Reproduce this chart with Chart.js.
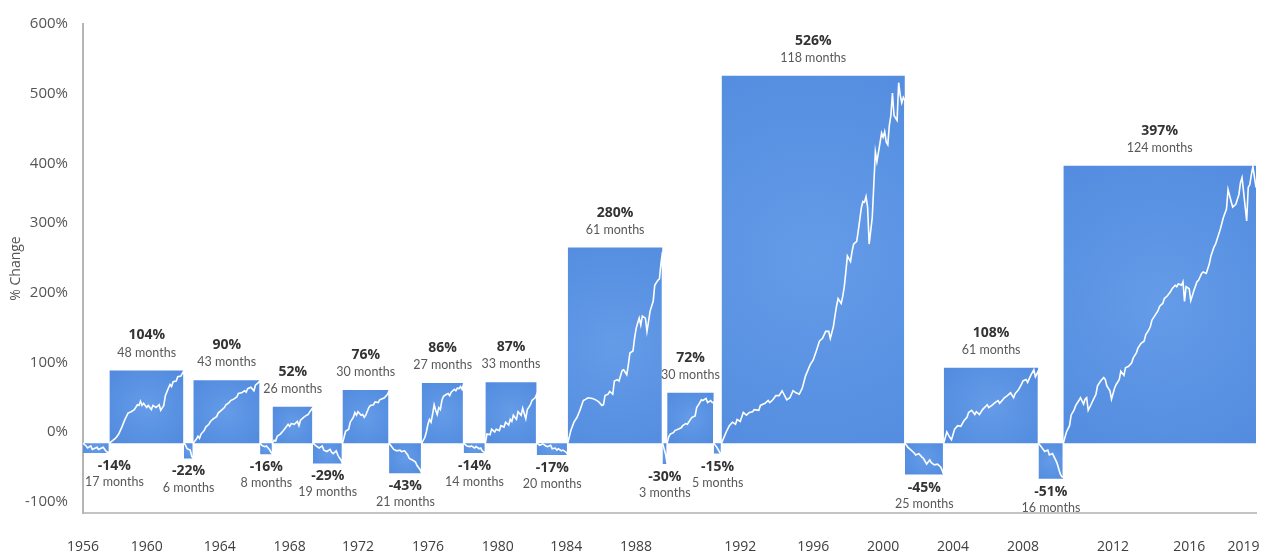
<!DOCTYPE html>
<html>
<head>
<meta charset="utf-8">
<script src="https://cdn.jsdelivr.net/npm/chart.js@4.4.1/dist/chart.umd.min.js"></script>
<style>
  html, body { margin: 0; padding: 0; background: #ffffff; }
  #wrap { width: 1266px; height: 558px; position: relative; }
</style>
</head>
<body>
<div id="wrap"><canvas id="c" width="1266" height="558"></canvas></div>
<script>
// ---------------- DATA ----------------
const periodMonths = [17, 48, 6, 43, 8, 26, 19, 30, 21, 27, 14, 33, 20, 61, 3, 30, 5, 118, 25, 61, 16, 124];
const periodChange = [-14, 104, -22, 90, -16, 52, -29, 76, -43, 86, -14, 87, -17, 280, -30, 72, -15, 526, -45, 108, -51, 397];

// cumulative % path inside each period: [month offset, % change]
const path01 = [[0,0],[2,-4],[3,-7],[5,-4],[6,-9],[9,-6],[10,-9],[12,-7],[13,-6],[15,-12],[17,-14]];
const path02 = [[0,0],[4,7],[6,13],[8,23],[10,34],[12,43],[14,45],[16,48],[18,55],[19,54],[20,60],[21,54],[22,57],[24,51],[25,54],[27,48],[28,54],[30,51],[32,55],[33,47],[35,54],[36,68],[38,79],[39,84],[40,81],[41,88],[43,89],[44,95],[46,96],[48,104]];
const path03 = [[0,0],[1,-3],[2,-8],[4,-10],[5,-19],[6,-22]];
const path04 = [[0,0],[2,6],[3,10],[4,7],[5,13],[7,18],[8,23],[10,27],[11,31],[13,35],[15,38],[16,43],[18,47],[20,51],[21,55],[23,58],[24,61],[26,63],[28,66],[29,71],[31,72],[33,75],[34,73],[35,78],[37,80],[39,75],[40,83],[42,87],[43,90]];
const path05 = [[0,0],[1,-3],[3,-5],[4,-4],[6,-9],[7,-13],[8,-16]];
const path06 = [[0,0],[1,4],[2,3],[3,10],[5,13],[7,18],[8,21],[10,27],[11,24],[12,28],[14,27],[16,31],[17,25],[18,33],[20,37],[22,40],[23,41],[24,45],[26,51]];
const path07 = [[0,0],[2,-4],[4,-7],[6,-4],[7,-10],[9,-12],[11,-9],[12,-13],[13,-15],[15,-11],[16,-17],[17,-21],[18,-24],[19,-29]];
const path08 = [[0,0],[1,8],[2,17],[4,20],[5,30],[7,37],[8,44],[9,40],[10,45],[12,40],[13,41],[14,37],[15,40],[17,51],[18,54],[20,55],[21,59],[23,58],[24,62],[26,64],[27,65],[29,70],[30,75]];
const path09 = [[0,0],[2,-6],[3,-9],[5,-11],[7,-10],[8,-12],[10,-11],[12,-17],[13,-22],[15,-24],[17,-27],[18,-32],[20,-38],[21,-43]];
const path10 = [[0,0],[2,8],[3,16],[4,27],[5,34],[6,30],[7,41],[8,55],[9,47],[10,41],[11,51],[12,48],[13,61],[14,67],[16,70],[17,71],[18,68],[19,73],[20,75],[21,77],[22,75],[23,79],[24,78],[25,81],[26,77],[27,85]];
const path11 = [[0,0],[2,-4],[4,-5],[5,-4],[7,-7],[8,-5],[10,-8],[11,-7],[12,-11],[14,-14]];
const path12 = [[0,0],[1,13],[3,12],[4,20],[6,16],[7,20],[9,18],[10,25],[12,23],[13,30],[15,26],[16,34],[17,31],[18,40],[20,34],[21,45],[23,40],[24,50],[26,35],[27,48],[29,55],[30,61],[32,65],[33,70]];
const path13 = [[0,0],[2,-3],[4,-1],[6,-4],[7,-5],[9,-3],[10,-8],[12,-7],[13,-10],[14,-8],[16,-11],[17,-10],[19,-13],[20,-17]];
const path14 = [[0,0],[2,18],[4,30],[6,37],[8,48],[10,61],[11,62],[13,65],[16,64],[18,62],[20,59],[22,54],[23,55],[24,68],[26,70],[27,74],[29,70],[30,89],[32,91],[33,89],[35,104],[36,105],[38,98],[39,112],[40,129],[42,132],[43,150],[44,164],[45,172],[46,179],[47,169],[48,182],[50,179],[51,160],[52,174],[53,189],[55,203],[56,226],[58,233],[59,235],[60,257],[61,274]];
const path15 = [[0,0],[2,-16],[3,-30]];
const path16 = [[0,0],[1,9],[2,13],[4,15],[5,18],[7,20],[9,22],[10,25],[12,28],[13,27],[15,34],[16,37],[18,39],[19,51],[21,58],[22,62],[23,61],[25,64],[26,58],[28,61],[29,58],[30,59]];
const path17 = [[0,0],[2,-6],[3,-10],[4,-14],[5,-15]];
const path18 = [[0,0],[3,16],[5,25],[7,30],[9,27],[10,34],[12,31],[14,44],[16,40],[18,44],[20,45],[21,48],[24,47],[25,54],[28,57],[30,61],[31,58],[33,62],[35,68],[37,68],[39,75],[42,62],[44,65],[46,75],[48,72],[50,70],[52,79],[54,96],[57,112],[59,119],[61,132],[63,146],[65,150],[67,160],[69,160],[70,150],[72,167],[73,182],[74,196],[75,207],[77,200],[78,210],[79,224],[80,245],[81,268],[83,260],[84,274],[85,285],[87,289],[88,304],[90,337],[91,346],[92,345],[93,353],[94,338],[95,285],[97,323],[98,370],[99,417],[100,403],[102,430],[103,444],[104,438],[105,446],[106,431],[107,427],[108,455],[109,469],[110,501],[111,469],[113,462],[114,516],[115,498],[116,487],[117,495],[118,491]];
const path19 = [[0,0],[2,-6],[4,-10],[6,-14],[7,-17],[9,-15],[11,-20],[12,-22],[14,-30],[16,-24],[17,-28],[19,-31],[21,-30],[23,-34],[24,-39],[25,-45]];
const path20 = [[0,0],[2,16],[4,8],[5,5],[7,20],[9,25],[11,24],[13,32],[15,37],[16,44],[18,47],[20,41],[21,45],[23,41],[25,48],[28,55],[29,51],[31,54],[33,58],[35,61],[36,57],[38,62],[39,65],[41,68],[43,72],[45,65],[46,71],[48,76],[50,84],[51,89],[53,91],[54,87],[56,97],[58,105],[59,95],[61,104]];
const path21 = [[0,0],[2,-6],[4,-12],[6,-10],[7,-17],[9,-15],[11,-24],[12,-29],[14,-44],[15,-48],[16,-49]];
const path22 = [[0,0],[2,16],[4,25],[5,40],[7,48],[8,54],[10,61],[11,65],[13,56],[14,63],[15,65],[16,47],[18,56],[19,61],[21,70],[22,82],[24,89],[26,94],[27,91],[28,82],[30,75],[31,63],[33,79],[34,84],[36,91],[37,103],[39,97],[40,108],[42,110],[44,115],[45,122],[47,129],[48,136],[50,143],[52,146],[53,155],[55,162],[56,167],[57,176],[59,183],[61,190],[62,196],[64,200],[65,207],[67,211],[69,217],[70,221],[72,226],[73,224],[74,228],[76,226],[77,231],[78,203],[79,224],[81,221],[82,204],[84,218],[86,231],[87,233],[89,243],[90,245],[92,243],[94,257],[95,268],[97,281],[98,285],[100,299],[101,306],[103,323],[105,335],[106,363],[108,346],[109,338],[111,342],[113,356],[114,373],[115,380],[116,360],[118,318],[119,366],[120,370],[121,384],[122,396],[124,366]];
const periodPaths = [path01,path02,path03,path04,path05,path06,path07,path08,path09,path10,path11,path12,path13,path14,path15,path16,path17,path18,path19,path20,path21,path22];

// x-axis tick labels and their month positions (months since the start of the first period)
const yearTickLabels = ['1956','1960','1964','1968','1972','1976','1980','1984','1988','1992','1996','2000','2004','2008','2012','2016','2019'];
const yearTickMonths = [0, 41, 88, 133, 177, 222, 267, 311, 356, 423, 470, 515, 560, 605, 663, 712, 747];
const yTickMin = -100, yTickMax = 600, yTickStep = 100;

// ---------------- BUILD ----------------
const periodStart = [];
let acc = 0;
periodMonths.forEach(m => { periodStart.push(acc); acc += m; });
const totalMonths = acc;

const linePoints = [];
periodPaths.forEach((p, i) => p.forEach(([m, v]) => linePoints.push({ x: periodStart[i] + m, y: v })));

function barFill(ctx) {
  const chart = ctx.chart;
  const i = ctx.datasetIndex - 1;
  const xs = chart.scales.x, ys = chart.scales.y;
  if (!chart.chartArea || !xs || !ys || i < 0) return 'rgb(90,146,226)';
  const x0 = xs.getPixelForValue(periodStart[i]);
  const x1 = xs.getPixelForValue(periodStart[i] + periodMonths[i]);
  const y0 = ys.getPixelForValue(0);
  const y1 = ys.getPixelForValue(periodChange[i]);
  const cx = (x0 + x1) / 2, cy = (y0 + y1) / 2;
  const r = Math.max(Math.abs(x1 - x0), Math.abs(y1 - y0)) * 0.75 + 1;
  const g = chart.ctx.createRadialGradient(cx, cy, 0, cx, cy, r);
  g.addColorStop(0, 'rgb(100,156,232)');
  g.addColorStop(1, 'rgb(79,136,221)');
  return g;
}

const datasets = [{
  label: 'path',
  data: linePoints,
  borderColor: '#ffffff',
  borderWidth: 1.6,
  pointRadius: 0,
  fill: false,
  tension: 0,
  order: 0
}];
periodChange.forEach((v, i) => {
  datasets.push({
    label: 'p' + i,
    data: [{ x: periodStart[i], y: v }, { x: periodStart[i] + periodMonths[i], y: v }],
    borderColor: 'rgba(0,0,0,0)',
    borderWidth: 0,
    pointRadius: 0,
    fill: 'origin',
    backgroundColor: barFill,
    order: 1
  });
});

const BOLD = 'bold 14px "Open Sans", sans-serif';
const REG = '12.5px Lato, "Open Sans", sans-serif';

const periodLabels = {
  id: 'periodLabels',
  afterDatasetsDraw(chart) {
    const { ctx, chartArea } = chart;
    const xs = chart.scales.x, ys = chart.scales.y;
    ctx.save();
    ctx.textAlign = 'center';
    ctx.textBaseline = 'middle';
    periodChange.forEach((v, i) => {
      const x0 = xs.getPixelForValue(periodStart[i]);
      const x1 = xs.getPixelForValue(periodStart[i] + periodMonths[i]);
      const pct = v + '%';
      const mon = periodMonths[i] + ' months';
      ctx.font = BOLD; const w1 = ctx.measureText(pct).width;
      ctx.font = REG; const w2 = ctx.measureText(mon).width;
      const half = Math.max(w1, w2) / 2;
      const cx = Math.max((x0 + x1) / 2, chartArea.left + half + 2);
      const yv = ys.getPixelForValue(v);
      let yb, ym;
      if (v >= 0) { yb = yv - 35; ym = yv - 18; } else { yb = yv + 13; ym = yv + 29; }
      ctx.font = BOLD; ctx.fillStyle = '#333333'; ctx.fillText(pct, cx, yb);
      ctx.font = REG; ctx.fillStyle = '#595959'; ctx.fillText(mon, cx, ym);
    });
    ctx.restore();
  }
};

// nudge lower y tick labels upward, as in the reference
const yLabelNudge = {
  id: 'yLabelNudge',
  beforeDraw(chart) {
    const s = chart.scales.y;
    const items = s.getLabelItems();
    if (items.__nudged) return;
    items.forEach((it, i) => {
      const t = s.ticks[i];
      if (t && t.value <= 300) it.options.translation[1] -= 11;
    });
    items.__nudged = true;
  }
};

Chart.defaults.font.family = '"Open Sans", sans-serif';

new Chart(document.getElementById('c'), {
  type: 'line',
  data: { datasets },
  options: {
    responsive: false,
    animation: false,
    devicePixelRatio: 1,
    layout: { padding: { top: 18, right: 10, left: 0, bottom: 0 } },
    plugins: { legend: { display: false }, tooltip: { enabled: false } },
    scales: {
      x: {
        type: 'linear',
        min: 0,
        max: totalMonths,
        grid: { display: false, drawTicks: false },
        border: { display: true, color: '#c4c4c4', width: 2 },
        afterBuildTicks: (scale) => { scale.ticks = yearTickMonths.map(v => ({ value: v })); },
        afterFit: (scale) => { scale.height = 45; scale.paddingLeft = 0; scale.paddingRight = 0; },
        ticks: {
          autoSkip: false,
          maxRotation: 0,
          padding: 26,
          color: '#404040',
          font: { size: 14 },
          callback: (value, index) => yearTickLabels[index]
        }
      },
      y: {
        min: yTickMin,
        max: yTickMax,
        grid: { display: false, drawTicks: false },
        border: { display: true, color: '#b5b5b5', width: 2 },
        afterFit: (scale) => { scale.width = 83; },
        ticks: {
          stepSize: yTickStep,
          padding: 15,
          color: '#555555',
          font: { size: 15 },
          callback: (v) => v + '%'
        },
        title: {
          display: true,
          text: '% Change',
          color: '#555555',
          font: { size: 14 },
          padding: { top: 8, bottom: 0 }
        }
      }
    }
  },
  plugins: [periodLabels, yLabelNudge]
});
</script>
</body>
</html>
